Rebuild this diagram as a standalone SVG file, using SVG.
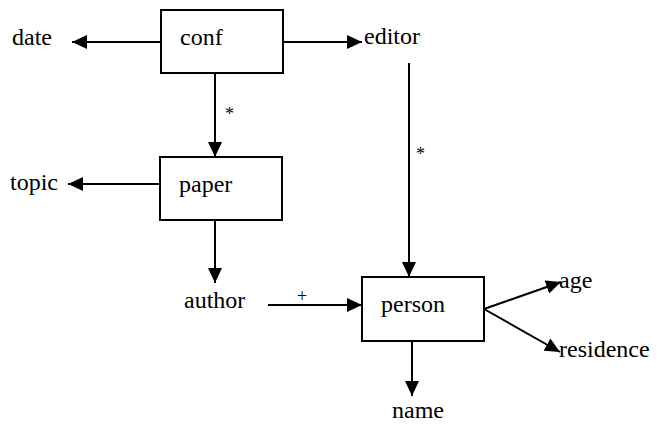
<svg xmlns="http://www.w3.org/2000/svg" width="659" height="424" viewBox="0 0 659 424">
<style>
.box{fill:#ffffff;stroke:#000000;stroke-width:2}
.ln{stroke:#000000;stroke-width:2}
.t{font-family:"Liberation Serif","DejaVu Serif","Times New Roman",serif;font-size:24px;fill:#000000}
.sm{font-family:"Liberation Serif","DejaVu Serif","Times New Roman",serif;font-size:18px;fill:#000000}
</style>
<defs>
<marker id="ah" markerUnits="userSpaceOnUse" markerWidth="16" markerHeight="14" refX="15" refY="7" orient="auto">
<path d="M0,0 L15,7 L0,14 Z" fill="#000000"/>
</marker>
</defs>
<g id="connectors">
<line class="ln" x1="161" y1="42" x2="72" y2="42" marker-end="url(#ah)"/>
<line class="ln" x1="283" y1="42" x2="362" y2="42" marker-end="url(#ah)"/>
<line class="ln" x1="215" y1="73" x2="215" y2="157" marker-end="url(#ah)"/>
<line class="ln" x1="409" y1="63" x2="409" y2="277" marker-end="url(#ah)"/>
<line class="ln" x1="160" y1="184" x2="68" y2="184" marker-end="url(#ah)"/>
<line class="ln" x1="215" y1="220" x2="215" y2="283" marker-end="url(#ah)"/>
<line class="ln" x1="268" y1="305" x2="362" y2="305" marker-end="url(#ah)"/>
<line class="ln" x1="484" y1="309" x2="561" y2="282" marker-end="url(#ah)"/>
<line class="ln" x1="484" y1="309" x2="560" y2="352" marker-end="url(#ah)"/>
<line class="ln" x1="412" y1="341" x2="412" y2="396" marker-end="url(#ah)"/>
<text class="sm" x="225" y="120">*</text>
<text class="sm" x="416" y="160">*</text>
<text class="sm" x="297" y="302">+</text>
</g>
<g id="conf"><rect class="box" x="161" y="10" width="122" height="63"/><text class="t" x="180" y="45">conf</text></g>
<g id="date"><text class="t" x="12" y="45">date</text></g>
<g id="editor"><text class="t" x="364" y="44">editor</text></g>
<g id="paper"><rect class="box" x="160" y="157" width="122" height="63"/><text class="t" x="179" y="192">paper</text></g>
<g id="topic"><text class="t" x="10" y="190">topic</text></g>
<g id="author"><text class="t" x="184" y="308">author</text></g>
<g id="person"><rect class="box" x="362" y="277" width="122" height="64"/><text class="t" x="381" y="312">person</text></g>
<g id="age"><text class="t" x="559" y="288">age</text></g>
<g id="residence"><text class="t" x="559" y="357">residence</text></g>
<g id="name"><text class="t" x="392" y="418">name</text></g>
</svg>
